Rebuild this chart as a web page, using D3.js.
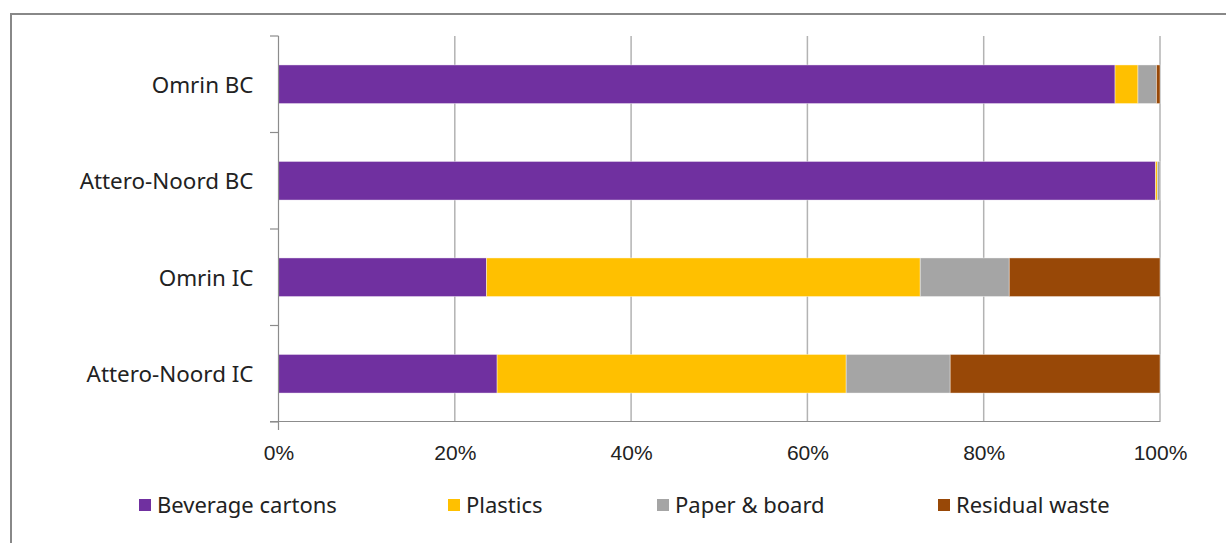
<!DOCTYPE html>
<html><head><meta charset="utf-8">
<script src="https://cdn.jsdelivr.net/npm/d3@7"></script>
<style>body{margin:0;background:#fff}svg{display:block}</style>
</head><body><svg id="c" width="1226" height="543"></svg>
<script>
const categories = ["Omrin BC", "Attero-Noord BC", "Omrin IC", "Attero-Noord IC"];
const seriesNames = ["Beverage cartons", "Plastics", "Paper & board", "Residual waste"];
const beverageCartons = [94.9, 99.5, 23.6, 24.8];
const plastics = [2.6, 0.2, 49.2, 39.6];
const paperBoard = [2.1, 0.3, 10.1, 11.8];
const residualWaste = [0.4, 0.0, 17.1, 23.8];
const tickValues = [0, 20, 40, 60, 80, 100];
const colors = ["#7030A0", "#FFC000", "#A5A5A5", "#984807"];

const svg = d3.select("#c");
svg.append("rect").attr("x", 11).attr("y", 14).attr("width", 1230).attr("height", 540)
  .attr("fill", "#fff").attr("stroke", "#888").attr("stroke-width", 2);

const x = d3.scaleLinear().domain([0, 100]).range([278.5, 1160]);
const y = d3.scaleBand().domain(categories).range([36, 422]).paddingInner(0.6).paddingOuter(0.3);

const table = categories.map((c, i) => ({cat: c, "Beverage cartons": beverageCartons[i], "Plastics": plastics[i], "Paper & board": paperBoard[i], "Residual waste": residualWaste[i]}));
const stacked = d3.stack().keys(seriesNames)(table);

// gridlines
svg.append("g").selectAll("line").data(tickValues.slice(1)).join("line")
  .attr("x1", d => x(d)).attr("x2", d => x(d)).attr("y1", 36).attr("y2", 422)
  .attr("stroke", "#b3b3b3").attr("stroke-width", 1.5);

// bars
svg.append("g").selectAll("g").data(stacked).join("g")
  .attr("fill", (d, i) => colors[i])
  .selectAll("rect").data(d => d).join("rect")
  .attr("x", d => x(d[0])).attr("width", d => Math.max(0, x(d[1]) - x(d[0])))
  .attr("y", d => y(d.data.cat)).attr("height", y.bandwidth())
  .attr("stroke", "rgba(255,255,255,0.5)").attr("stroke-width", 0.8);

// x axis
const xAxis = svg.append("g").attr("transform", "translate(0,421.5)")
  .call(d3.axisBottom(x).tickValues(tickValues).tickFormat(d => d + "%").tickSize(0).tickPadding(24));
xAxis.select(".domain").attr("stroke", "#8c8c8c").attr("stroke-width", 1.2).attr("d", "M270,0H1160");
xAxis.selectAll("text").attr("font-family", "Liberation Sans, Arial, sans-serif").attr("font-size", 21).attr("fill", "#222");

// y axis
const yAxis = svg.append("g").attr("transform", "translate(278.5,0)")
  .call(d3.axisLeft(y).tickSize(0).tickPadding(25));
yAxis.select(".domain").attr("stroke", "#8c8c8c").attr("stroke-width", 1.2).attr("d", "M0,36V430");
yAxis.selectAll("text").attr("font-family", "Noto Sans, sans-serif").attr("font-size", 22.4).attr("fill", "#222").attr("dy", "0.38em");
// category boundary ticks
const bounds = d3.range(categories.length + 1).map(i => 36 + i * (386 / categories.length));
svg.append("g").selectAll("line").data(bounds).join("line")
  .attr("x1", 270).attr("x2", 278.5).attr("y1", d => d).attr("y2", d => d)
  .attr("stroke", "#8c8c8c").attr("stroke-width", 1.2);

// legend
const legX = [139, 448, 657, 938];
const leg = svg.append("g").selectAll("g").data(seriesNames).join("g")
  .attr("transform", (d, i) => `translate(${legX[i]},505)`);
leg.append("rect").attr("x", 0).attr("y", -6).attr("width", 12).attr("height", 12).attr("fill", (d, i) => colors[i]);
leg.append("text").attr("x", 18).attr("y", 0).attr("dy", "0.35em").text(d => d)
  .attr("font-family", "Noto Sans, sans-serif").attr("font-size", 22).attr("fill", "#222");
</script></body></html>
